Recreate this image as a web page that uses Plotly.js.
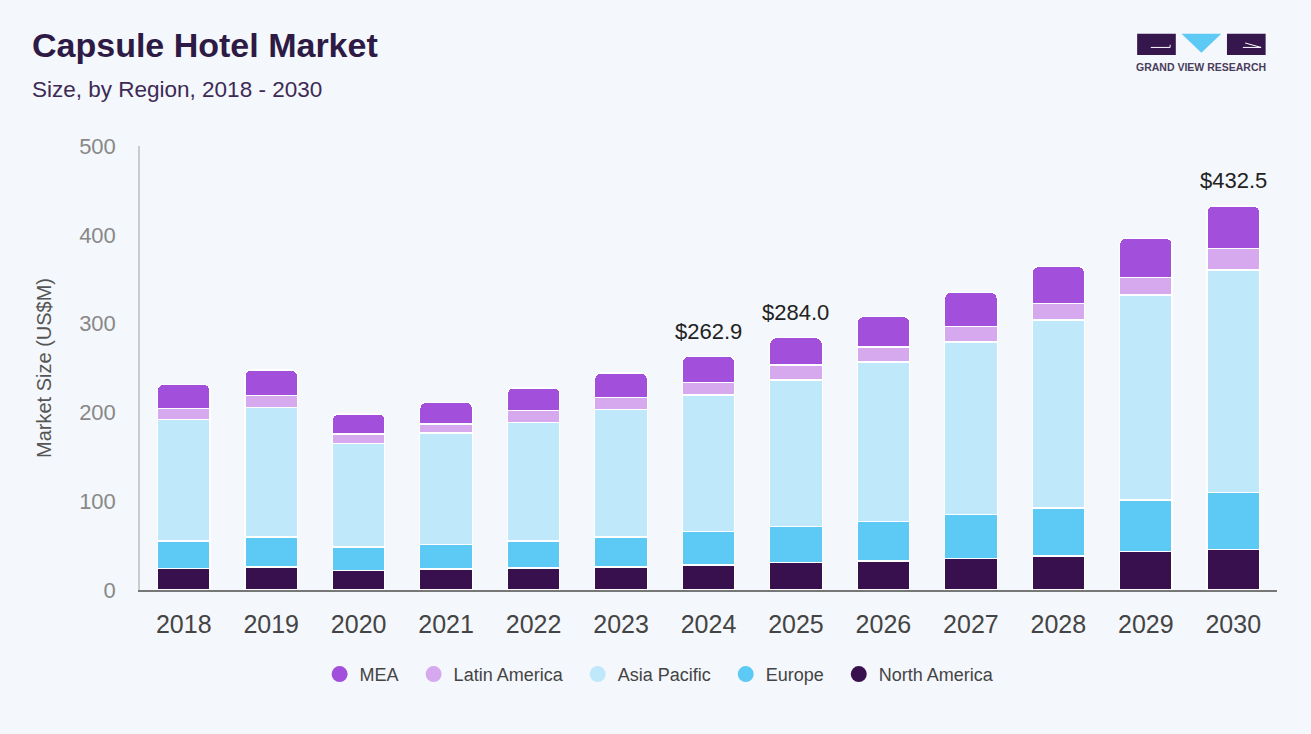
<!DOCTYPE html>
<html>
<head>
<meta charset="utf-8">
<script src="https://cdn.plot.ly/plotly-3.0.1.min.js"></script>
<style>
  html, body { margin: 0; padding: 0; background: #f4f7fb; }
  #plot { width: 1311px; height: 734px; }
</style>
</head>
<body>
<div id="plot"></div>
<script>
// values, US$M
const years = ['2018', '2019', '2020', '2021', '2022', '2023', '2024',
  '2025', '2026', '2027', '2028', '2029', '2030'];
const northAmerica = [24.4, 25.9, 21.8, 23.6, 24.8, 25.9, 28.2, 30.7, 32.7, 35.7, 38.3, 43.1, 45.8];
const europe = [30.8, 33.8, 26.6, 27.8, 30.4, 33.8, 37.9, 40.6, 44.7, 49.1, 54.0, 58.3, 64.2];
const asiaPacific = [137.0, 146.0, 116.8, 125.4, 133.2, 143.8, 153.5, 165.2, 179.4, 194.5, 211.7, 230.8, 250.4];
const latinAmerica = [12.0, 13.5, 10.5, 10.1, 13.5, 13.1, 14.3, 16.9, 16.8, 17.2, 18.9, 19.9, 23.9];
const mea = [27.4, 28.5, 22.5, 24.4, 25.6, 27.8, 29.0, 30.6, 34.2, 38.7, 41.2, 43.9, 48.2];
const labelYears = ['2024', '2025', '2030'];

const series = [
  { name: 'North America', y: northAmerica, color: '#38104d' },
  { name: 'Europe', y: europe, color: '#5ccaf5' },
  { name: 'Asia Pacific', y: asiaPacific, color: '#bfe8fa' },
  { name: 'Latin America', y: latinAmerica, color: '#d6a8ee' },
  { name: 'MEA', y: mea, color: '#a24fdb' },
];

const bars = series.map(s => ({
  x: years,
  y: s.y,
  name: s.name,
  type: 'bar',
  showlegend: false,
  marker: { color: s.color, line: { color: '#ffffff', width: 1.2 } },
  hoverinfo: 'x+y+name',
}));

// round legend dots, MEA first; kept on a hidden axis pair so they don't touch the bars' axes
const legendDots = series.slice().reverse().map((s, k, arr) => ({
  x: [0],
  y: [null],
  xaxis: 'x2',
  yaxis: 'y2',
  name: k < arr.length - 1 ? s.name + '\u00a0\u00a0' : s.name,
  type: 'scatter',
  mode: 'markers',
  marker: { color: s.color, size: 20, symbol: 'circle' },
  hoverinfo: 'skip',
}));

const totals = years.map((_, i) => series.reduce((acc, s) => acc + s.y[i], 0));

// year labels look numeric, so annotations use the category's index
const totalLabels = labelYears.map(yr => {
  const i = years.indexOf(yr);
  return {
    x: i,
    y: totals[i],
    text: '$' + totals[i].toFixed(1),
    showarrow: false,
    yanchor: 'bottom',
    yshift: 11,
    font: { size: 22, color: '#222222' },
  };
});

const layout = {
  width: 1311,
  height: 734,
  paper_bgcolor: '#f4f7fb',
  plot_bgcolor: '#f4f7fb',
  font: { family: 'Liberation Sans, Arial, sans-serif' },
  margin: { l: 140, r: 34, t: 146, b: 144 },
  barmode: 'stack',
  bargap: 0.4,
  barcornerradius: 6,
  xaxis: {
    type: 'category',
    showgrid: false,
    showline: true,
    linecolor: '#777777',
    linewidth: 1.5,
    ticks: '',
    ticklabelstandoff: 11,
    tickfont: { size: 25, color: '#444444' },
  },
  yaxis: {
    range: [0, 500],
    dtick: 100,
    showgrid: false,
    zeroline: false,
    showline: true,
    linecolor: '#cccccc',
    linewidth: 1.5,
    ticks: '',
    ticklabelstandoff: 18,
    tickfont: { size: 22, color: '#888888' },
    title: { text: 'Market Size (US$M)', font: { size: 20, color: '#555555' }, standoff: 22 },
  },
  xaxis2: { visible: false, overlaying: 'x', range: [0, 1] },
  yaxis2: { visible: false, overlaying: 'y', range: [0, 1] },
  showlegend: true,
  legend: {
    orientation: 'h',
    x: 0.457,
    xanchor: 'center',
    y: -0.19,
    yanchor: 'middle',
    font: { size: 18, color: '#444444' },
    itemsizing: 'trace',
    itemwidth: 30,
    traceorder: 'normal',
  },
  annotations: totalLabels.concat([
    {
      xref: 'paper', yref: 'paper', x: -0.097, y: 1.227,
      xanchor: 'left', yanchor: 'middle', showarrow: false,
      text: '<b>Capsule Hotel Market</b>',
      font: { size: 34, color: '#2d1a45' },
    },
    {
      xref: 'paper', yref: 'paper', x: -0.097, y: 1.128,
      xanchor: 'left', yanchor: 'middle', showarrow: false,
      text: 'Size, by Region, 2018 - 2030',
      font: { size: 22.5, color: '#3d2a55' },
    },
    {
      xref: 'paper', yref: 'paper', x: 0.933, y: 1.178,
      xanchor: 'center', yanchor: 'middle', showarrow: false,
      text: '<b>GRAND VIEW RESEARCH</b>',
      font: { size: 10.5, color: '#4a3d5c' },
    },
  ]),
  shapes: [
    // logo blocks
    { type: 'rect', xref: 'paper', yref: 'paper', x0: 0.877, x1: 0.911, y0: 1.205, y1: 1.253,
      fillcolor: '#36174d', line: { width: 0 } },
    { type: 'path', xref: 'paper', yref: 'paper',
      path: 'M 0.889 1.222 L 0.906 1.222 L 0.906 1.228', line: { color: '#ffffff', width: 1 } },
    { type: 'path', xref: 'paper', yref: 'paper',
      path: 'M 0.916 1.253 L 0.951 1.253 L 0.9335 1.21 Z',
      fillcolor: '#5ccaf5', line: { width: 0 } },
    { type: 'rect', xref: 'paper', yref: 'paper', x0: 0.956, x1: 0.990, y0: 1.205, y1: 1.253,
      fillcolor: '#36174d', line: { width: 0 } },
    { type: 'path', xref: 'paper', yref: 'paper',
      path: 'M 0.970 1.222 L 0.986 1.222 L 0.972 1.232', line: { color: '#ffffff', width: 1 } },
  ],
};

Plotly.newPlot('plot', bars.concat(legendDots), layout, { displayModeBar: false });
</script>
</body>
</html>
